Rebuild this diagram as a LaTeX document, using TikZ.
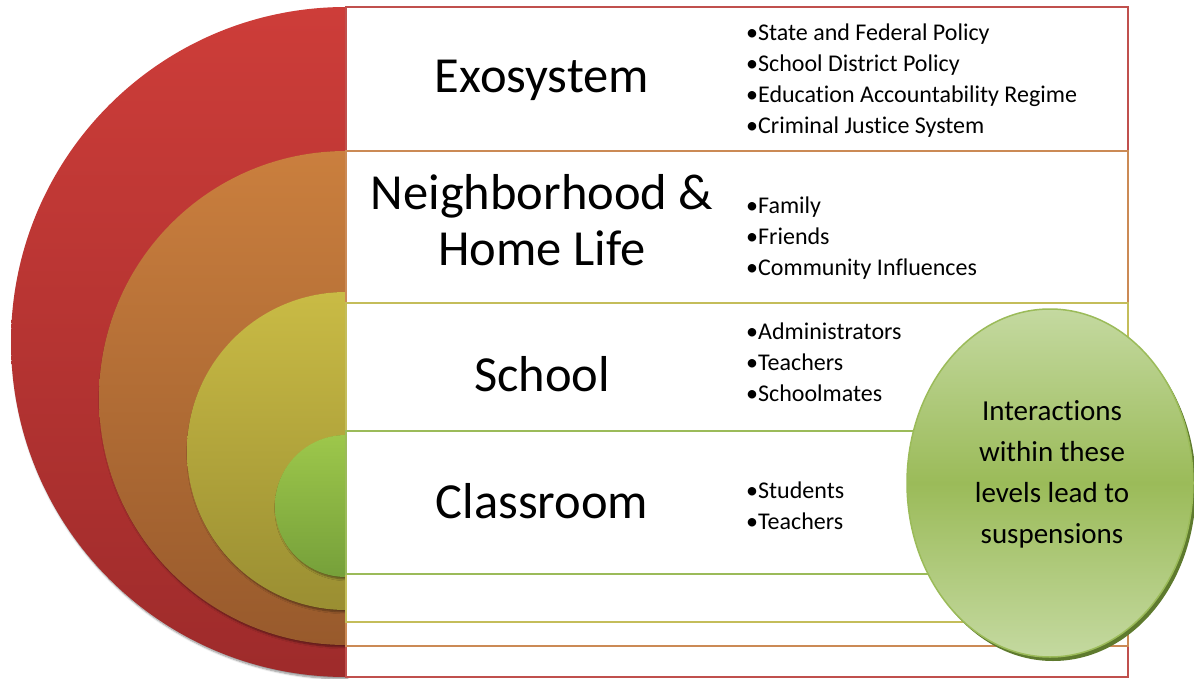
\documentclass[tikz,border=0pt]{standalone}
\usepackage{fontspec}
\setmainfont{Carlito}[Ligatures=NoCommon]
\usetikzlibrary{shapes.geometric,shadows,shadows.blur}

\definecolor{ringRedTop}{HTML}{CD3D39}
\definecolor{ringRedBot}{HTML}{9E2B2B}
\definecolor{ringOrangeTop}{HTML}{CA7F3E}
\definecolor{ringOrangeBot}{HTML}{985A2C}
\definecolor{ringYellowTop}{HTML}{C9BB45}
\definecolor{ringYellowBot}{HTML}{9A8E32}
\definecolor{ringGreenTop}{HTML}{9DC74B}
\definecolor{ringGreenBot}{HTML}{76A03A}
\definecolor{lineRed}{HTML}{C0504D}
\definecolor{lineOrange}{HTML}{CB8A55}
\definecolor{lineYellow}{HTML}{C4BD5A}
\definecolor{lineGreen}{HTML}{9BBB59}
\definecolor{bubbleLight}{HTML}{C4D9A0}
\definecolor{bubbleMid}{HTML}{9BBB59}
\definecolor{bubbleShadow}{HTML}{5E7A2E}

\begin{document}
\begin{tikzpicture}
[x=1pt,y=-1pt,
  ringDecorate/.style={blur shadow={shadow xshift=1.5pt,shadow yshift=-2pt,
    shadow blur steps=6,shadow opacity=45}},%
  boxDecorate/.style={draw,fill=white,line width=1.5pt},%
  titleDecorate/.style={inner sep=0pt,align=center,
    font=\fontsize{50.5}{56}\selectfont},%
  listDecorate/.style={anchor=west,inner sep=0pt,align=left,
    font=\fontsize{24}{31}\selectfont}]
\useasboundingbox (0,0) rectangle (1194,679);
%% half rings, outer to inner
\foreach \cy/\r/\topcol/\botcol in {
  342/335/ringRedTop/ringRedBot, 398/247/ringOrangeTop/ringOrangeBot,
  451/159/ringYellowTop/ringYellowBot, 506/71/ringGreenTop/ringGreenBot}
{
  \shade[top color=\topcol,bottom color=\botcol,ringDecorate]
    (346,\cy-\r) arc[start angle=-90,end angle=-270,radius=\r] -- cycle;
}
%% level boxes
\foreach \top/\bot/\col in {
  7/677/lineRed, 151/646/lineOrange, 303/622/lineYellow, 431/574/lineGreen}
{
  \draw[boxDecorate,draw=\col] (346,\top) rectangle (1128,\bot);
}
%% level names
\node (exo) at (542,80) [titleDecorate] {Exosystem};
\node (hood) at (542,220) [titleDecorate] {Neighborhood \&\\Home Life};
\node (school) at (542,374) [titleDecorate] {School};
\node (room) at (542,501) [titleDecorate] {Classroom};
%% level contents
\node (exoList) at (746,80.5) [listDecorate]
  {•State and Federal Policy\\•School District Policy\\
   •Education Accountability Regime\\•Criminal Justice System};
\node (hoodList) at (746,238) [listDecorate]
  {•Family\\•Friends\\•Community Influences};
\node (schoolList) at (746,362.5) [listDecorate]
  {•Administrators\\•Teachers\\•Schoolmates};
\node (roomList) at (746,506) [listDecorate]
  {•Students\\•Teachers};
%% note bubble
\node (bubble) at (1050,483) [ellipse,minimum width=286pt,minimum height=348pt,
  inner sep=0pt,draw=lineGreen,line width=1.5pt,
  top color=bubbleLight,bottom color=bubbleLight,middle color=bubbleMid,
  drop shadow={shadow xshift=3pt,shadow yshift=-4pt,fill=bubbleShadow,opacity=1}] {};
\node (bubbleText) at (1052,474.5) [align=center,font=\fontsize{29}{41}\selectfont]
  {Interactions\\within these\\levels lead to\\suspensions};
\end{tikzpicture}
\end{document}
